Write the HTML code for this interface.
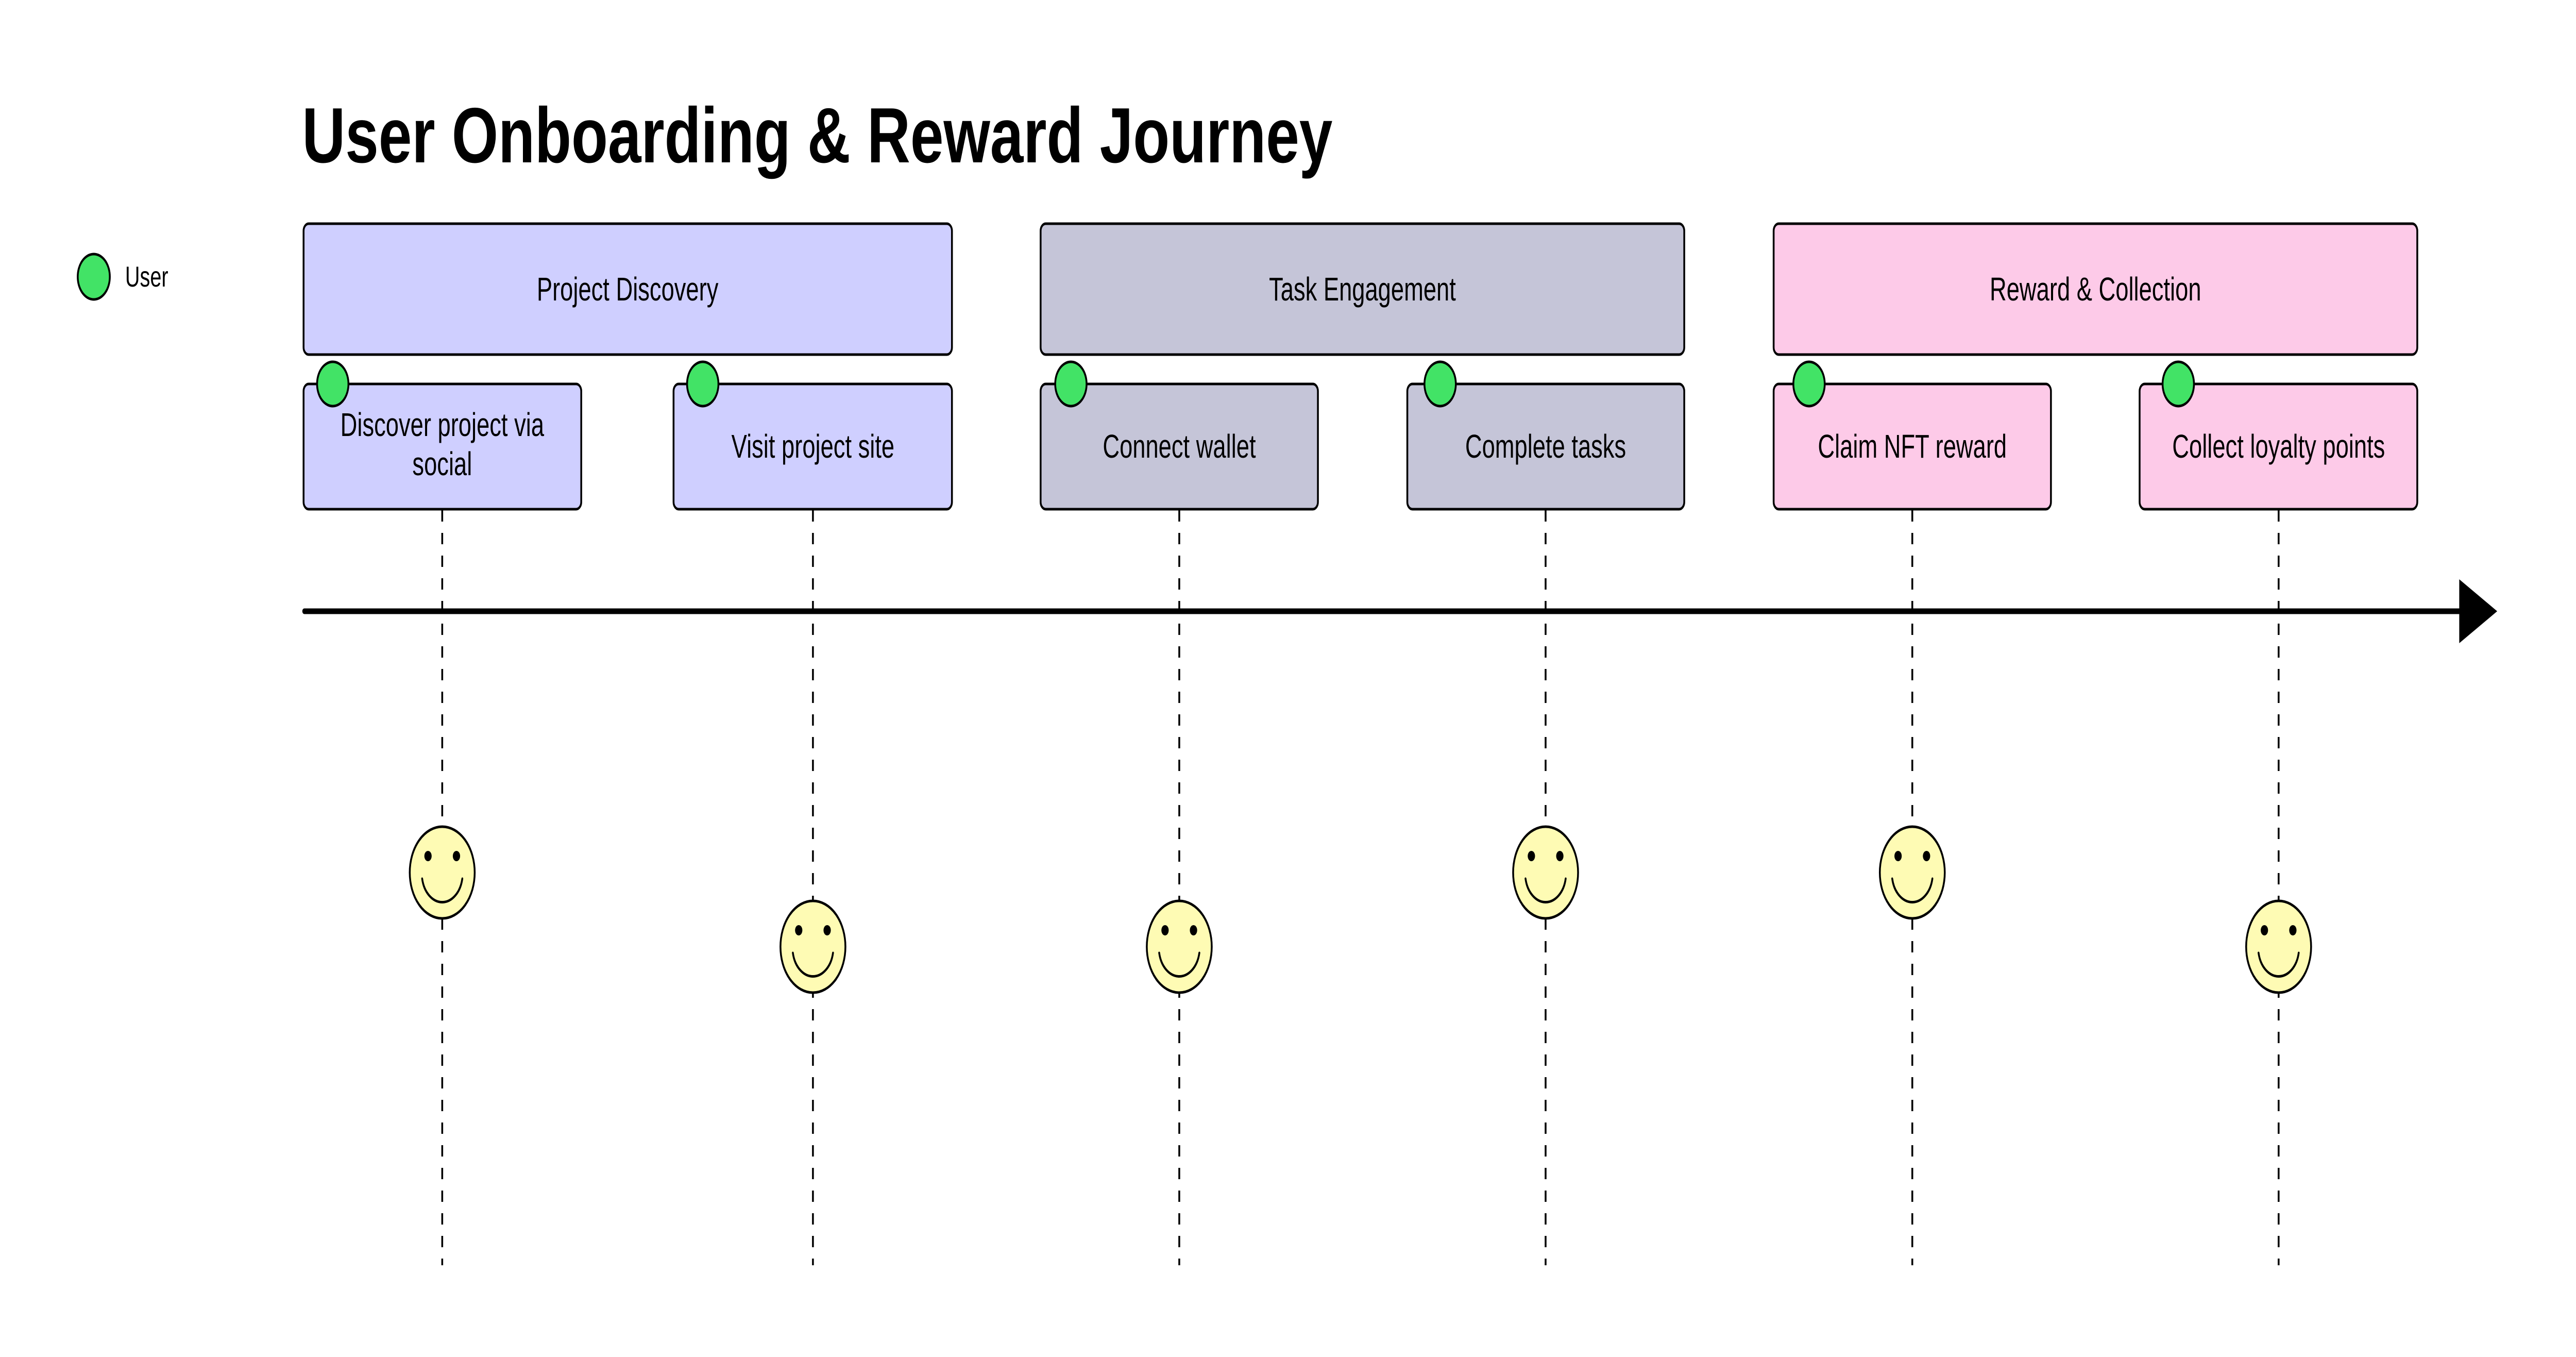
<!DOCTYPE html>
<html><head><meta charset="utf-8"><style>
html,body{margin:0;padding:0;background:#fff;width:100%;height:100%;overflow:hidden;}
svg{display:block;width:100vw;height:100vh;}
text{font-family:"Liberation Sans",sans-serif;fill:#000;}
</style></head><body>
<svg viewBox="0 0 7060 2633" preserveAspectRatio="none" xmlns="http://www.w3.org/2000/svg">
<defs>
<g id="smile">
<circle cx="0" cy="0" r="89" fill="#FEFBB4" stroke="#000" stroke-width="5"/>
<circle cx="-39" cy="-32" r="10" fill="#000"/>
<circle cx="39" cy="-32" r="10" fill="#000"/>
<path d="M -55 12 A 56 56 0 0 0 55 12" fill="none" stroke="#000" stroke-width="5" stroke-linecap="round"/>
</g>
</defs>
<text x="828" y="315" font-size="152" font-weight="bold" textLength="2824" lengthAdjust="spacingAndGlyphs">User Onboarding &amp; Reward Journey</text>
<circle cx="257" cy="537" r="44" fill="#42E366" stroke="#000" stroke-width="5"/>
<text x="343" y="556" font-size="56">User</text>

<g stroke="#000" stroke-width="5" stroke-dasharray="22 22">
<line x1="1212" y1="990" x2="1212" y2="2455"/>
<line x1="2228" y1="990" x2="2228" y2="2455"/>
<line x1="3232" y1="990" x2="3232" y2="2455"/>
<line x1="4236" y1="990" x2="4236" y2="2455"/>
<line x1="5241" y1="990" x2="5241" y2="2455"/>
<line x1="6245" y1="990" x2="6245" y2="2455"/>
</g>

<g stroke="#000" stroke-width="5">
<rect x="832" y="434" width="1777" height="254" rx="14" fill="#CFCFFF"/>
<rect x="2852" y="434" width="1764" height="254" rx="14" fill="#C5C5D8"/>
<rect x="4861" y="434" width="1764" height="254" rx="14" fill="#FDCAE8"/>
<rect x="832" y="745" width="761" height="243" rx="14" fill="#CFCFFF"/>
<rect x="1846" y="745" width="763" height="243" rx="14" fill="#CFCFFF"/>
<rect x="2852" y="745" width="760" height="243" rx="14" fill="#C5C5D8"/>
<rect x="3857" y="745" width="759" height="243" rx="14" fill="#C5C5D8"/>
<rect x="4861" y="745" width="760" height="243" rx="14" fill="#FDCAE8"/>
<rect x="5864" y="745" width="761" height="243" rx="14" fill="#FDCAE8"/>
</g>
<g fill="#42E366" stroke="#000" stroke-width="5">
<circle cx="912" cy="745" r="43"/>
<circle cx="1926" cy="745" r="43"/>
<circle cx="2935" cy="745" r="43"/>
<circle cx="3947" cy="745" r="43"/>
<circle cx="4958" cy="745" r="43"/>
<circle cx="5970" cy="745" r="43"/>
</g>
<g font-size="64" text-anchor="middle">
<text x="1720" y="583">Project Discovery</text>
<text x="3734" y="583">Task Engagement</text>
<text x="5743" y="583">Reward &amp; Collection</text>
<text x="1212" y="846">Discover project via</text>
<text x="1212" y="922">social</text>
<text x="2228" y="888">Visit project site</text>
<text x="3232" y="888">Connect wallet</text>
<text x="4236" y="888">Complete tasks</text>
<text x="5241" y="888">Claim NFT reward</text>
<text x="6245" y="888">Collect loyalty points</text>
</g>

<line x1="834" y1="1186" x2="6760" y2="1186" stroke="#000" stroke-width="11" stroke-linecap="round"/>
<polygon points="6740,1124 6844,1186 6740,1248" fill="#000"/>

<use href="#smile" x="1212" y="1693"/>
<use href="#smile" x="2228" y="1837"/>
<use href="#smile" x="3232" y="1837"/>
<use href="#smile" x="4236" y="1693"/>
<use href="#smile" x="5241" y="1693"/>
<use href="#smile" x="6245" y="1837"/>
</svg>
</body></html>
